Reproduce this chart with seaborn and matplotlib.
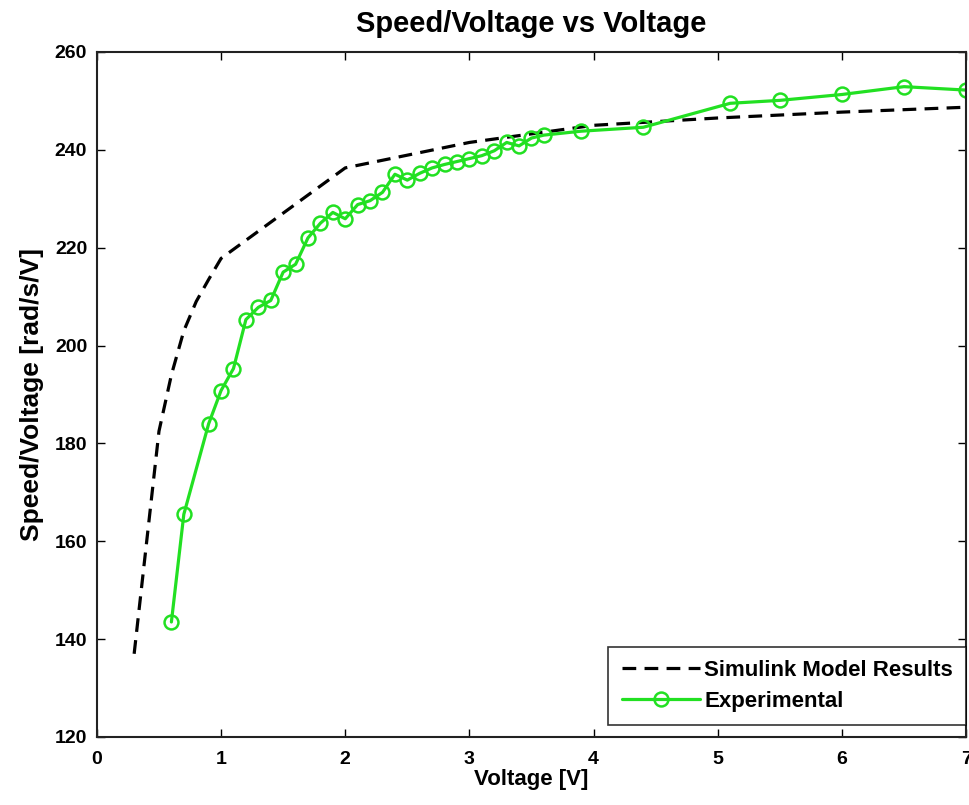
import matplotlib
matplotlib.use("Agg")
import matplotlib.pyplot as plt
import pandas as pd
import seaborn as sns

# Simulink model curve
sim_voltage = [0.3, 0.5, 0.6, 0.7, 0.8, 0.9, 1.0, 2.0, 3.0, 4.0, 5.0, 6.0, 7.0]
sim_ratio = [137.0, 182.5, 194.0, 203.0, 209.0, 213.5, 217.8, 236.3, 241.5, 245.0, 246.5, 247.7, 248.7]

# Experimental measurements
exp_voltage = [0.6, 0.7, 0.9, 1.0, 1.1, 1.2, 1.3, 1.4, 1.5, 1.6, 1.7, 1.8, 1.9, 2.0,
               2.1, 2.2, 2.3, 2.4, 2.5, 2.6, 2.7, 2.8, 2.9, 3.0, 3.1, 3.2, 3.3, 3.4,
               3.5, 3.6, 3.9, 4.4, 5.1, 5.5, 6.0, 6.5, 7.0]
exp_ratio = [143.5, 165.5, 184.0, 190.8, 195.3, 205.3, 207.8, 209.2, 215.0, 216.6, 222.0,
             225.0, 227.2, 225.9, 228.8, 229.6, 231.3, 235.0, 233.8, 235.2, 236.3, 237.0,
             237.6, 238.2, 238.8, 239.8, 241.5, 240.8, 242.4, 243.0, 243.8, 244.6,
             249.5, 250.1, 251.3, 252.9, 252.2]

sim = pd.DataFrame({"voltage": sim_voltage, "ratio": sim_ratio})
exp = pd.DataFrame({"voltage": exp_voltage, "ratio": exp_ratio})

sns.set_theme(style="white")
plt.rcParams["font.family"] = ["Liberation Sans", "DejaVu Sans"]
plt.rcParams["font.weight"] = "bold"
plt.rcParams["text.color"] = "black"
plt.rcParams["axes.labelcolor"] = "black"

fig = plt.figure(figsize=(9.69, 8.05), dpi=100)
ax = fig.add_axes([0.100, 0.0845, 0.897, 0.851])

green = "#22e022"
sns.lineplot(data=sim, x="voltage", y="ratio", ax=ax, color="black", linewidth=2.3,
             sort=False, estimator=None, label="Simulink Model Results")
ax.lines[-1].set_dashes([4.3, 2.6])
sns.lineplot(data=exp, x="voltage", y="ratio", ax=ax, color=green, linewidth=2.3,
             marker="o", markersize=10, markerfacecolor="none", markeredgecolor=green,
             markeredgewidth=1.8, sort=False, estimator=None, label="Experimental")

ax.set_xlim(0, 7)
ax.set_ylim(120, 260)
ax.set_xticks(range(0, 8))
ax.set_yticks(range(120, 261, 20))
ax.tick_params(direction="in", length=6, width=1, labelsize=14, colors="black",
               top=True, right=True, bottom=True, left=True, pad=7)
ax.tick_params(axis="x", pad=10)
for lab in ax.get_xticklabels() + ax.get_yticklabels():
    lab.set_fontweight("bold")
for sp in ax.spines.values():
    sp.set_color("#222222")
    sp.set_linewidth(1.5)

ax.set_xlabel("Voltage [V]", fontsize=16, fontweight="bold", labelpad=1)
ax.set_ylabel("Speed/Voltage [rad/s/V]", fontsize=19, fontweight="bold", labelpad=8)
ax.set_title("Speed/Voltage vs Voltage", fontsize=21, fontweight="bold", pad=14)

leg = ax.legend(loc="lower right", bbox_to_anchor=(1.0, 0.017), fontsize=16,
                frameon=True, fancybox=False, handlelength=3.5, borderpad=0.6,
                labelspacing=0.45, handletextpad=0.2, borderaxespad=0)
leg.get_frame().set_edgecolor("black")
leg.get_frame().set_linewidth(1.2)
for t in leg.get_texts():
    t.set_fontweight("bold")

fig.savefig("out.png", dpi=100)
